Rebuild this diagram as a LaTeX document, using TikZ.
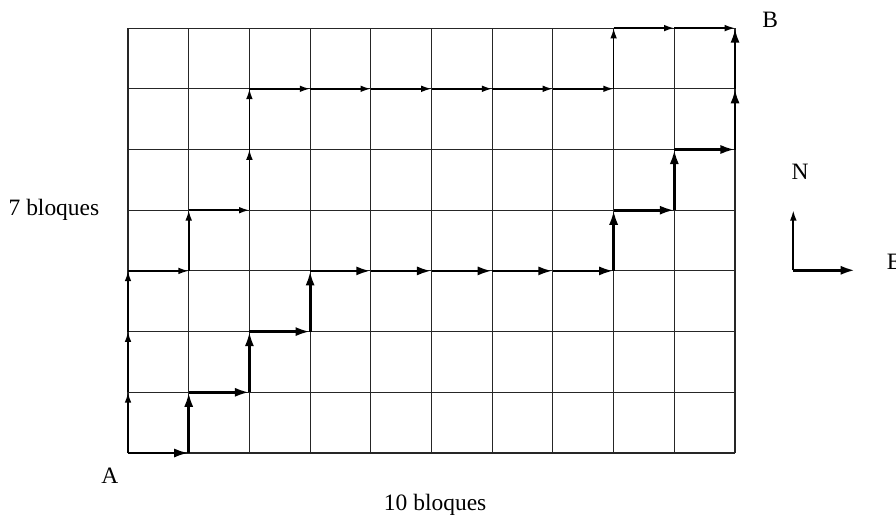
\documentclass[tikz,border=0pt]{standalone}
\usepackage{fontspec}
\setmainfont{Liberation Serif}
\usetikzlibrary{arrows.meta}

\begin{document}
\begin{tikzpicture}[
    x=1cm, y=1cm,
    font=\fontsize{11}{13}\selectfont,
    gridline/.style={line width=0.5pt, black!85},
    thinroute/.style={-{Latex[length=1.7mm,width=1.1mm]}, line width=0.8pt},
    thickroute/.style={-{Latex[length=2.4mm,width=1.5mm]}, line width=1.3pt}
]
\useasboundingbox (-2.109,-1.071) rectangle (12.652,7.463);

% street grid
\foreach \i in {0,...,10}
  \foreach \j in {0,...,7}
    \coordinate (p\i-\j) at (\i,\j);
\foreach \i in {0,...,10}
  \draw[gridline] (p\i-0) -- (p\i-7);
\foreach \j in {0,...,7}
  \draw[gridline] (p0-\j) -- (p10-\j);

% thin route
\foreach \a/\b in {0-0/0-1, 0-1/0-2, 0-2/0-3, 0-3/1-3, 1-3/1-4, 1-4/2-4, 2-4/2-5, 2-5/2-6,
    2-6/3-6, 3-6/4-6, 4-6/5-6, 5-6/6-6, 6-6/7-6, 7-6/8-6, 8-6/8-7, 8-7/9-7, 9-7/10-7}
  \draw[thinroute] (p\a) -- (p\b);

% thick route
\foreach \a/\b in {0-0/1-0, 1-0/1-1, 1-1/2-1, 2-1/2-2, 2-2/3-2, 3-2/3-3, 3-3/4-3, 4-3/5-3,
    5-3/6-3, 6-3/7-3, 7-3/8-3, 8-3/8-4, 8-4/9-4, 9-4/9-5, 9-5/10-5, 10-5/10-6, 10-6/10-7}
  \draw[thickroute] (p\a) -- (p\b);

% labels
\node (A) at (-0.30,-0.37) {A};
\node (B) at (10.58,7.13) {B};
\node (rows) at (-1.22,4.0) {7 bloques};
\node (cols) at (5.06,-0.86) {10 bloques};

% compass
\coordinate (origin) at (10.96,3.01);
\coordinate (northtip) at (10.96,4.0);
\coordinate (easttip) at (11.98,3.01);
\node (N) at (11.07,4.63) {N};
\node (E) at (12.62,3.15) {E};
\draw[thinroute] (origin) -- (northtip);
\draw[thickroute] (origin) -- (easttip);
\end{tikzpicture}
\end{document}
